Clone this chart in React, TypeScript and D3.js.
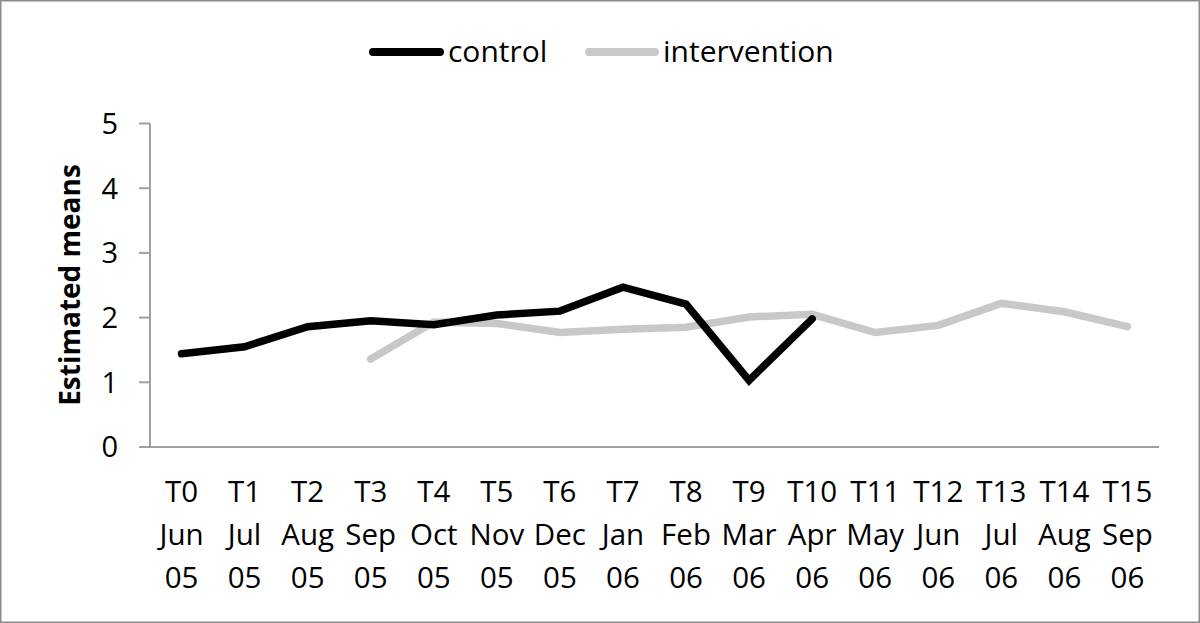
import React from "react";
import * as d3 from "d3";

const timepoints = ["T0","T1","T2","T3","T4","T5","T6","T7","T8","T9","T10","T11","T12","T13","T14","T15"];
const months = ["Jun","Jul","Aug","Sep","Oct","Nov","Dec","Jan","Feb","Mar","Apr","May","Jun","Jul","Aug","Sep"];
const years = ["05","05","05","05","05","05","05","06","06","06","06","06","06","06","06","06"];
const control: (number | null)[] = [1.44,1.55,1.86,1.95,1.89,2.04,2.1,2.47,2.21,1.03,1.98,null,null,null,null,null];
const intervention: (number | null)[] = [null,null,null,1.36,1.93,1.91,1.77,1.82,1.85,2.01,2.05,1.77,1.88,2.22,2.09,1.86];
const yTicks = [0,1,2,3,4,5];

const W = 1200, H = 623;
const FONT = "'Open Sans', sans-serif";

export default function App() {
  const x = d3.scaleBand<string>().domain(timepoints).range([150, 1159]).padding(0);
  const y = d3.scaleLinear().domain([0, 5]).range([447, 123.5]);
  const cx = (i: number) => (x(timepoints[i]) as number) + x.bandwidth() / 2;
  const line = d3.line<number | null>()
    .defined((d) => d !== null)
    .x((_, i) => cx(i))
    .y((d) => y(d as number));

  return (
    <svg width={W} height={H} style={{ position: "absolute", left: 0, top: 0, background: "#fff" }} fontFamily={FONT}>
      <rect x={0.75} y={0.75} width={W - 1.5} height={H - 1.5} fill="#fff" stroke="#8c8c8c" strokeWidth={1.5} />
      {/* legend */}
      <line x1={373} x2={440} y1={52} y2={52} stroke="#000" strokeWidth={8} strokeLinecap="round" />
      <text x={448} y={62} fontSize={30} fill="#000">control</text>
      <line x1={589} x2={655} y1={52} y2={52} stroke="#c8c8c8" strokeWidth={8} strokeLinecap="round" />
      <text x={663} y={62} fontSize={30} fill="#000">intervention</text>
      {/* y axis */}
      <line x1={150} x2={150} y1={y(5)} y2={y(0)} stroke="#a0a0a0" strokeWidth={2} />
      {yTicks.map((t) => (
        <g key={t}>
          <line x1={139} x2={150} y1={y(t)} y2={y(t)} stroke="#a0a0a0" strokeWidth={2} />
          <text x={118} y={y(t)} dy="0.36em" textAnchor="end" fontSize={29} fill="#000">{t}</text>
        </g>
      ))}
      {/* x axis */}
      <line x1={149} x2={1159} y1={y(0)} y2={y(0)} stroke="#a0a0a0" strokeWidth={2} />
      {timepoints.map((t, i) => (
        <text key={t} x={cx(i)} textAnchor="middle" fontSize={29.5} fill="#000">
          <tspan x={cx(i)} y={502}>{t}</tspan>
          <tspan x={cx(i)} y={545}>{months[i]}</tspan>
          <tspan x={cx(i)} y={588}>{years[i]}</tspan>
        </text>
      ))}
      <text transform="translate(80,285) rotate(-90)" textAnchor="middle" fontSize={28} fontWeight="bold" fill="#000">Estimated means</text>
      {/* series */}
      <path d={line(intervention) || ""} fill="none" stroke="#c8c8c8" strokeWidth={7.5} strokeLinecap="round" strokeLinejoin="miter" />
      <path d={line(control) || ""} fill="none" stroke="#000" strokeWidth={7.5} strokeLinecap="round" strokeLinejoin="miter" />
    </svg>
  );
}
